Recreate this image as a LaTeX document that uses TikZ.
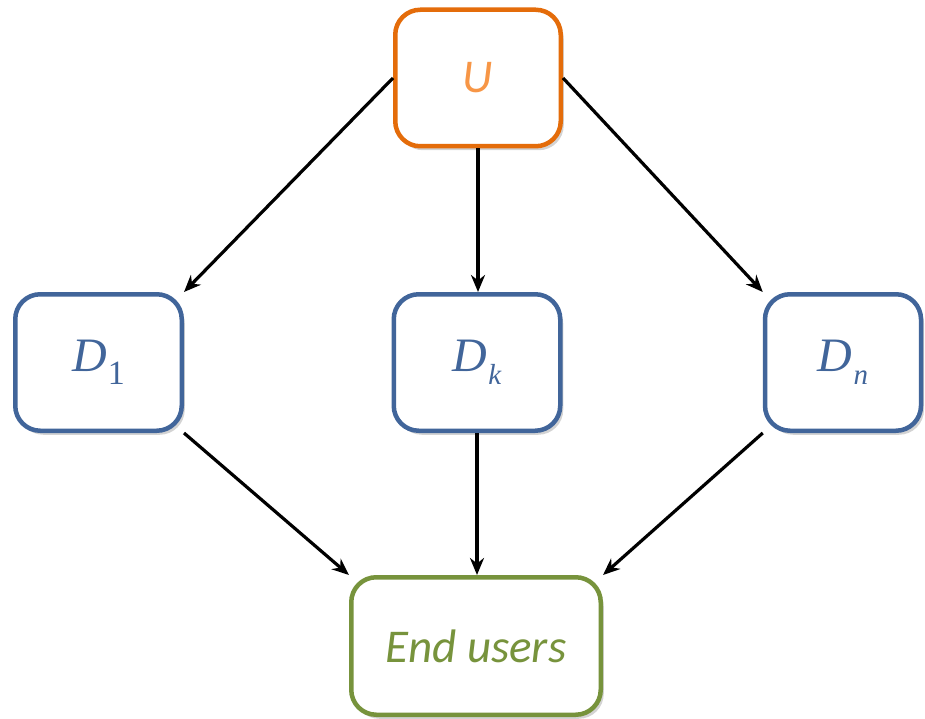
\documentclass[tikz,border=0pt]{standalone}
\usepackage{fontspec}
\setmainfont{Carlito}
\newfontfamily\dfont{Liberation Serif}
\usetikzlibrary{shadows,arrows.meta}
\definecolor{uorange}{HTML}{E46C0A}
\definecolor{utext}{HTML}{F79646}
\definecolor{dblue}{HTML}{41659A}
\definecolor{egreen}{HTML}{77933C}
\newcommand{\dname}[2]{{\dfont\itshape\fontsize{48}{52}\selectfont D\kern1pt\raisebox{-13pt}{\fontsize{#2}{36}\selectfont #1}}}
\begin{document}
\begin{tikzpicture}[x=1pt,y=-1pt,
  boxstyle/.style={draw, line width=4.5pt, rounded corners=25pt, fill=white,
    inner sep=0pt, font=\fontsize{47}{52}\selectfont\itshape,
    drop shadow={opacity=0.35, shadow xshift=3pt, shadow yshift=-4pt}},
  ubox/.style={boxstyle, draw=uorange, text=utext, minimum width=165.5pt, minimum height=136.5pt},
  dbox/.style={boxstyle, draw=dblue, text=dblue, minimum width=166.5pt, minimum height=136.5pt},
  ebox/.style={boxstyle, draw=egreen, text=egreen, minimum width=249.5pt, minimum height=137.5pt},
  arr/.style={-{Stealth[length=17pt,width=14pt]}, line width=3.2pt, black}]
\useasboundingbox (0,0) rectangle (925,719);
\node[ubox] (U) at (478,78) {U};
\node[dbox] (D1) at (98.5,362.5) {\dname{\upshape 1}{34}};
\node[dbox] (Dk) at (477,362.5) {\dname{k}{29}};
\node[dbox, minimum width=156pt] (Dn) at (843,362.5) {\dname{n}{29}};
\node[ebox] (E) at (476,646) {End users};
\draw[arr] (U.west) -- (D1.north east);
\draw[arr] (U.south) -- (U.south |- Dk.north);
\draw[arr] (U.east) -- (Dn.north west);
\draw[arr] (D1.south east) -- (E.north west);
\draw[arr] (Dk.south) -- (Dk.south |- E.north);
\draw[arr] (Dn.south west) -- (E.north east);
\end{tikzpicture}
\end{document}
